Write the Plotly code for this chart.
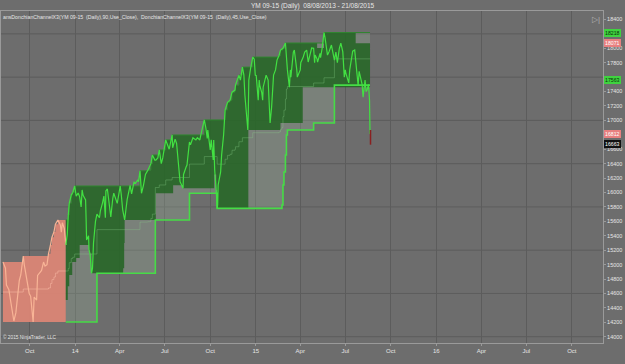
import plotly.graph_objects as go
import pandas as pd

# ---------------- data ----------------
SALMON_DATES = ["2013-08-08","2013-08-13","2013-08-15","2013-08-20","2013-08-22","2013-08-27","2013-08-30",
 "2013-09-03","2013-09-06","2013-09-10","2013-09-13","2013-09-18","2013-09-20","2013-09-25","2013-09-30",
 "2013-10-03","2013-10-08","2013-10-10","2013-10-15","2013-10-17","2013-10-22","2013-10-25","2013-10-29",
 "2013-11-01","2013-11-05","2013-11-08","2013-11-12","2013-11-15","2013-11-19","2013-11-22","2013-11-27",
 "2013-12-02","2013-12-04","2013-12-06","2013-12-10","2013-12-13"]
SALMON_CLOSE = [15036,14950,14717,14650,14560,14350,14218,14330,14509,14780,14856,15119,15000,14790,14600,
 14560,14204,14550,14509,14850,14900,14920,15036,14980,15000,15150,15272,15380,15452,15560,15619,
 15550,15450,15580,15500,15272]

SALMON_UP_DATES = ["2013-08-08","2013-09-18","2013-11-08","2013-11-12","2013-11-15","2013-11-19","2013-11-22",
                   "2013-11-27","2013-12-13"]
SALMON_UP = [15036,15119,15150,15272,15380,15452,15560,15619,15619]
SALMON_LO_DATES = ["2013-08-08","2013-12-13"]
SALMON_LO = [14204,14204]

GREEN_DATES = ["2013-12-13","2013-12-16","2013-12-18","2013-12-20","2013-12-24","2013-12-27","2013-12-31",
 "2014-01-03","2014-01-07","2014-01-10","2014-01-13","2014-01-15","2014-01-17","2014-01-22","2014-01-23",
 "2014-01-24","2014-01-28","2014-01-29","2014-01-31","2014-02-03","2014-02-05","2014-02-07","2014-02-11",
 "2014-02-14","2014-02-19","2014-02-21","2014-02-25","2014-02-28","2014-03-03","2014-03-04","2014-03-07",
 "2014-03-13","2014-03-14","2014-03-18","2014-03-20","2014-03-27","2014-04-02","2014-04-04","2014-04-07",
 "2014-04-11","2014-04-16","2014-04-22","2014-04-25","2014-04-30","2014-05-02","2014-05-07","2014-05-09",
 "2014-05-12","2014-05-15","2014-05-19","2014-05-23","2014-05-28","2014-06-03","2014-06-06","2014-06-11",
 "2014-06-13","2014-06-17","2014-06-20","2014-06-24","2014-06-27","2014-07-03","2014-07-10","2014-07-16",
 "2014-07-17","2014-07-22","2014-07-25","2014-07-31","2014-08-01","2014-08-07","2014-08-08","2014-08-13",
 "2014-08-15","2014-08-20","2014-08-22","2014-08-27","2014-09-02","2014-09-05","2014-09-10","2014-09-12",
 "2014-09-19","2014-09-22","2014-09-25","2014-09-26","2014-10-01","2014-10-03","2014-10-07","2014-10-08",
 "2014-10-09","2014-10-10","2014-10-13","2014-10-15","2014-10-16","2014-10-17","2014-10-20","2014-10-22",
 "2014-10-24","2014-10-28","2014-10-31","2014-11-05","2014-11-10","2014-11-14","2014-11-20","2014-11-21",
 "2014-11-28","2014-12-01","2014-12-05","2014-12-08","2014-12-10","2014-12-12","2014-12-16","2014-12-17",
 "2014-12-18","2014-12-22","2014-12-26","2014-12-29","2014-12-31","2015-01-02","2015-01-05","2015-01-06",
 "2015-01-08","2015-01-09","2015-01-13","2015-01-15","2015-01-16","2015-01-22","2015-01-26","2015-01-27",
 "2015-01-28","2015-01-30","2015-02-02","2015-02-04","2015-02-06","2015-02-10","2015-02-13","2015-02-17",
 "2015-02-20","2015-02-25","2015-03-02","2015-03-06","2015-03-10","2015-03-12","2015-03-13","2015-03-18",
 "2015-03-20","2015-03-25","2015-03-26","2015-04-01","2015-04-02","2015-04-07","2015-04-10","2015-04-14",
 "2015-04-17","2015-04-24","2015-04-28","2015-04-30","2015-05-01","2015-05-05","2015-05-06","2015-05-11",
 "2015-05-12","2015-05-15","2015-05-19","2015-05-21","2015-05-26","2015-05-29","2015-06-03","2015-06-09",
 "2015-06-12","2015-06-15","2015-06-19","2015-06-22","2015-06-26","2015-06-29","2015-07-01","2015-07-02",
 "2015-07-08","2015-07-10","2015-07-13","2015-07-16","2015-07-20","2015-07-23","2015-07-27","2015-07-29",
 "2015-07-31","2015-08-04","2015-08-06","2015-08-10","2015-08-12","2015-08-14","2015-08-17","2015-08-19",
 "2015-08-20"]
GREEN_CLOSE = [15272,15420,15688,15850,15965,16000,16090,
 15950,15993,15940,15800,16035,15960,15896,15650,
 15341,15400,15200,15150,14880,14950,15300,15600,
 15700,15650,15750,15850,15950,15650,16020,16049,
 15700,15660,15920,15990,15850,16090,15980,15760,
 15619,15900,16100,15980,16150,16120,16170,16150,
 16300,15990,16100,16250,16310,16400,16520,16450,
 16450,16480,16590,16400,16480,16729,16600,16798,
 16620,16740,16680,16200,16150,16060,16250,16350,
 16380,16700,16660,16760,16729,16760,16729,16798,
 17006,16900,16750,16867,16590,16729,16450,16729,
 16450,16312,16035,15780,15827,16104,16243,16285,
 16520,16798,17143,17250,17281,17392,17420,17489,
 17628,17559,17739,17628,17351,17143,16867,17143,
 17559,17740,17878,17850,17628,17620,17351,17280,
 17559,17490,17390,17281,17460,17628,17560,17323,
 17140,16964,17180,17400,17628,17700,17836,17900,
 17975,18000,18073,17700,17461,17700,17600,17947,
 17975,17697,17600,17700,17800,17880,17947,17975,
 17809,18004,18000,17800,17906,17850,17809,17930,
 17870,17990,18218,18150,17906,17950,18045,17836,
 17947,17800,18000,18071,17950,17600,17700,17660,
 17520,17700,17870,17960,17975,17730,17480,17680,
 17600,17500,17323,17560,17400,17420,17500,17281,
 16812]

# 45-period channel (dark fill)
IN_UP_DATES = ["2013-12-13","2013-12-18","2013-12-20","2013-12-24","2013-12-27","2013-12-31","2014-05-12",
 "2014-05-28","2014-06-03","2014-06-06","2014-06-20","2014-07-03","2014-07-16","2014-09-19","2014-10-31",
 "2014-11-05","2014-11-10","2014-11-14","2014-11-20","2014-11-21","2014-11-28","2014-12-05","2014-12-26",
 "2015-02-17","2015-02-20","2015-02-25","2015-03-02","2015-05-05","2015-05-19","2015-07-22","2015-08-20"]
IN_UP = [15619,15688,15850,15965,16000,16090,16300,
 16310,16400,16520,16590,16729,16798,17006,17143,
 17250,17281,17392,17420,17489,17628,17739,17878,
 17900,17975,18000,18073,18004,18218,18071,18071]
IN_LO_DATES = ["2013-12-13","2013-12-17","2013-12-20","2013-12-26","2014-01-03","2014-01-10","2014-01-29",
 "2014-01-31","2014-02-03","2014-04-08","2014-04-10","2014-04-11","2014-06-13","2014-07-18","2014-08-07",
 "2014-10-09","2014-10-13","2014-10-15","2014-12-17","2015-02-20","2015-04-06","2015-08-19","2015-08-20"]
IN_LO = [14509,14700,14856,15036,15092,15272,15200,
 15150,14880,14950,15300,15619,15990,16100,16060,
 16250,16035,15780,16867,16964,17461,17461,16812]

# 90-period channel (light fill, bright lower line)
OUT_UP_DATES = ["2013-12-13","2013-12-18","2013-12-20","2013-12-24","2013-12-27","2013-12-31","2014-05-12",
 "2014-05-28","2014-06-03","2014-06-06","2014-06-20","2014-07-03","2014-07-16","2014-09-19","2014-10-31",
 "2014-11-05","2014-11-10","2014-11-14","2014-11-20","2014-11-21","2014-11-28","2014-12-05","2014-12-26",
 "2015-02-17","2015-02-20","2015-02-25","2015-03-02","2015-05-19","2015-08-20"]
OUT_UP = [15619,15688,15850,15965,16000,16090,16300,
 16310,16400,16520,16590,16729,16798,17006,17143,
 17250,17281,17392,17420,17489,17628,17739,17878,
 17900,17975,18000,18073,18218,18218]
OUT_LO_DATES = ["2013-12-13","2014-02-14","2014-06-12","2014-08-20","2014-10-15","2015-02-23","2015-02-25",
 "2015-02-27","2015-03-02","2015-03-04","2015-03-06","2015-04-28","2015-06-09","2015-08-20"]
OUT_LO = [14204,14880,15619,15990,15780,15827,16104,
 16285,16520,16798,16867,16964,17489,17489]

LAST_BAR_DATE = "2015-08-21"
LAST_BAR_OPEN = 16867
LAST_BAR_CLOSE = 16663

MARKER_VALUES = [18218, 18071, 17563, 16812, 16663]
MARKER_COLORS = ["#3fd23f", "#e88080", "#3fd23f", "#e88080", "#111111"]
MARKER_TEXT_COLORS = ["#0a300a", "#ffffff", "#0a300a", "#ffffff", "#ffffff"]

Y_TICKS = list(range(14000, 18401, 200))
Y_HIDDEN = [18200, 17600, 16800]          # labels covered by the value markers
GRID_LEVELS = [14000, 14600, 15200, 15800, 16400, 17000, 17600, 18200]
X_TICK_DATES = ["2013-10-01","2014-01-01","2014-04-01","2014-07-01","2014-10-01","2015-01-01","2015-04-01",
                "2015-07-01","2015-10-01","2016-01-01","2016-04-01","2016-07-01","2016-10-01"]
X_TICK_TEXT = ["Oct","14","Apr","Jul","Oct","15","Apr","Jul","Oct","16","Apr","Jul","Oct"]

TITLE = "YM 09-15 (Daily)  08/08/2013 - 21/08/2015"
INDICATOR_LABEL = ("ansDonchianChannelX3(YM 09-15  (Daily),90,Use_Close),  "
                   "DonchianChannelX3(YM 09-15  (Daily),45,Use_Close)")
COPYRIGHT = "© 2015 NinjaTrader, LLC"

# ---------------- styles ----------------
BG = "#6d6d6d"
GRID = "#5c5c5c"
FRAME = "#9a9a9a"
TXT = "#e6e6e6"
FONT = "Liberation Sans, Arial, sans-serif"


def step_mid(d1, v1, d2, v2):
    """Middle of two step-wise bands (evaluated on the union of their step dates)."""
    s1 = pd.Series(v1, index=pd.to_datetime(d1))
    s2 = pd.Series(v2, index=pd.to_datetime(d2))
    idx = s1.index.union(s2.index)
    a = s1.reindex(idx).ffill()
    b = s2.reindex(idx).ffill()
    m = ((a + b) / 2).dropna()
    return list(m.index), list(m.values)


fig = go.Figure()


def add_line(xs, ys, **kw):
    fig.add_trace(go.Scatter(x=xs, y=ys, mode="lines", hoverinfo="skip", showlegend=False, **kw))


# salmon warm-up channel
add_line(SALMON_LO_DATES, SALMON_LO, line=dict(width=0, shape="hv"))
add_line(SALMON_UP_DATES, SALMON_UP, line=dict(width=0, shape="hv"), fill="tonexty",
         fillcolor="rgba(222,135,118,0.92)")

# 90 channel light fill
add_line(OUT_LO_DATES, OUT_LO, line=dict(width=0, shape="hv"))
add_line(OUT_UP_DATES, OUT_UP, line=dict(width=0, shape="hv"), fill="tonexty",
         fillcolor="rgba(150,170,150,0.32)")
# 45 channel dark fill
add_line(IN_LO_DATES, IN_LO, line=dict(width=0, shape="hv"))
add_line(IN_UP_DATES, IN_UP, line=dict(width=0, shape="hv"), fill="tonexty",
         fillcolor="rgba(34,100,34,0.85)")

# faint channel middles
mx, my = step_mid(SALMON_UP_DATES, SALMON_UP, SALMON_LO_DATES, SALMON_LO)
add_line(mx, my, line=dict(width=0.7, color="rgba(250,190,170,0.7)", shape="hv"))
mx, my = step_mid(OUT_UP_DATES, OUT_UP, OUT_LO_DATES, OUT_LO)
add_line(mx, my, line=dict(width=0.7, color="rgba(140,210,140,0.45)", shape="hv"))

# 90 channel lines
add_line(OUT_LO_DATES, OUT_LO, line=dict(width=1.6, color="#46dc46", shape="hv"))
add_line(OUT_UP_DATES, OUT_UP, line=dict(width=1.0, color="#2f862f", shape="hv"))

# price lines
add_line(SALMON_DATES, SALMON_CLOSE, line=dict(width=1.2, color="#f8b496"))
add_line(GREEN_DATES, GREEN_CLOSE, line=dict(width=1.2, color="#42e042"))
add_line([LAST_BAR_DATE, LAST_BAR_DATE], [LAST_BAR_OPEN, LAST_BAR_CLOSE],
         line=dict(width=1.5, color="#8a2020"))

# horizontal grid
for g in GRID_LEVELS:
    fig.add_hline(y=g, line=dict(color=GRID, width=1), layer="below")

# value markers on the axis
for v, c, tc in zip(MARKER_VALUES, MARKER_COLORS, MARKER_TEXT_COLORS):
    fig.add_annotation(x=1, xref="paper", xanchor="left", xshift=1, y=v, yref="y", text=str(v),
                       yshift=1 if v == 16663 else 0,
                       showarrow=False, bgcolor=c, font=dict(size=5.2, color=tc, family=FONT),
                       borderpad=0, bordercolor=c)

fig.add_annotation(x=0, xref="paper", xanchor="left", y=1, yref="paper", yanchor="top", yshift=-1,
                   text=INDICATOR_LABEL, showarrow=False, font=dict(size=5.2, color=TXT, family=FONT))
fig.add_annotation(x=0, xref="paper", xanchor="left", y=0, yref="paper", yanchor="bottom", yshift=1,
                   text=COPYRIGHT, showarrow=False, font=dict(size=4.8, color=TXT, family=FONT))
fig.add_annotation(x=1, xref="paper", xanchor="right", y=1, yref="paper", yanchor="top", yshift=-2, xshift=-1,
                   text="▷|", showarrow=False, font=dict(size=8, color="#b0b0b0", family=FONT))

fig.update_layout(
    width=625, height=364,
    margin=dict(l=1, r=22, t=11, b=21),
    paper_bgcolor=BG, plot_bgcolor=BG,
    title=dict(text=TITLE, x=0.5, xanchor="center", y=1 - 5.5 / 364, yanchor="middle",
               font=dict(size=6.5, color=TXT, family=FONT)),
    xaxis=dict(type="date", range=["2013-08-04", "2016-12-03"], tickvals=X_TICK_DATES, ticktext=X_TICK_TEXT,
               showgrid=True, gridcolor=GRID, gridwidth=1, zeroline=False,
               ticks="outside", ticklen=2, tickcolor=FRAME, tickfont=dict(size=6, color=TXT, family=FONT),
               showline=True, linecolor=FRAME, linewidth=1, mirror=True),
    yaxis=dict(range=[13913, 18517], side="right", tickvals=Y_TICKS,
               ticktext=["" if t in Y_HIDDEN else str(t) for t in Y_TICKS],
               showgrid=False, zeroline=False, ticks="outside", ticklen=2, tickcolor=FRAME,
               tickfont=dict(size=5.5, color=TXT, family=FONT),
               showline=True, linecolor=FRAME, linewidth=1, mirror=True),
)

fig.write_html("out.html")
